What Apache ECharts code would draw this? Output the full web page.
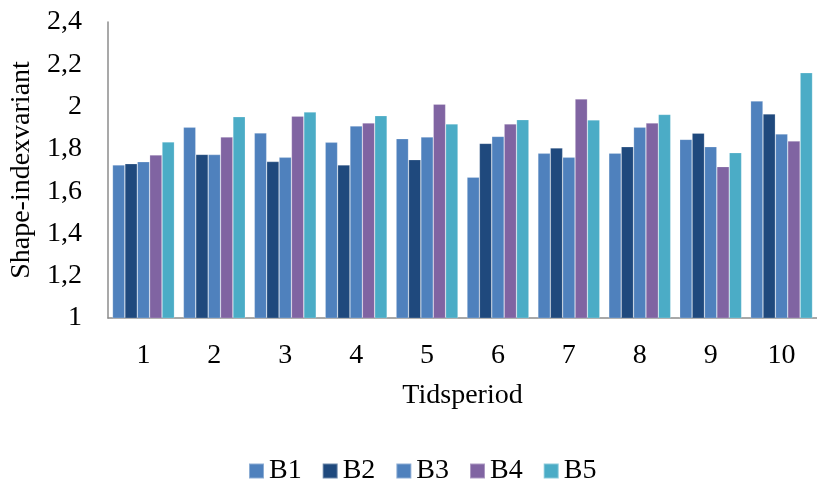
<!DOCTYPE html>
<html>
<head>
<meta charset="utf-8">
<script src="https://cdn.jsdelivr.net/npm/echarts@6/dist/echarts.min.js"></script>
<style>html,body{margin:0;padding:0;background:#fff;}#c{width:817px;height:479px;}</style>
</head>
<body>
<div id="c"></div>
<script>
var categories = ['1','2','3','4','5','6','7','8','9','10'];
var seriesNames = ['B1','B2','B3','B4','B5'];
var B1 = [1.724, 1.902, 1.875, 1.831, 1.848, 1.666, 1.779, 1.780, 1.845, 2.026];
var B2 = [1.730, 1.774, 1.740, 1.724, 1.749, 1.826, 1.804, 1.810, 1.874, 1.965];
var B3 = [1.739, 1.773, 1.760, 1.908, 1.856, 1.859, 1.760, 1.902, 1.810, 1.870];
var B4 = [1.771, 1.856, 1.955, 1.922, 2.011, 1.918, 2.036, 1.922, 1.716, 1.837];
var B5 = [1.833, 1.952, 1.974, 1.957, 1.918, 1.938, 1.937, 1.963, 1.782, 2.160];
var yTicks = [1, 1.2, 1.4, 1.6, 1.8, 2, 2.2, 2.4];
var colors = ['#4F81BD', '#1F497D', '#4F81BD', '#8064A2', '#4BACC6'];

var font = '"Liberation Serif", "Times New Roman", serif';
var fs = 28;
var allData = [B1, B2, B3, B4, B5];
var chart = echarts.init(document.getElementById('c'), null, {renderer: 'canvas'});
chart.setOption({
  animation: false,
  color: colors,
  textStyle: {fontFamily: font},
  grid: {left: 108, right: -14, top: 22, bottom: 161, containLabel: false},
  legend: {
    top: 452,
    left: 243,
    itemWidth: 15,
    itemHeight: 15,
    itemGap: 20,
    icon: 'rect',
    textStyle: {fontFamily: font, fontSize: fs, color: '#000'},
    data: seriesNames
  },
  xAxis: {
    type: 'category',
    data: categories,
    name: 'Tidsperiod',
    nameLocation: 'middle',
    nameGap: 64,
    nameTextStyle: {fontFamily: font, fontSize: fs, color: '#000'},
    axisLine: {lineStyle: {color: '#8C8C8C', width: 1.5}},
    axisTick: {show: false},
    axisLabel: {fontFamily: font, fontSize: fs, color: '#000', margin: 24}
  },
  yAxis: {
    type: 'value',
    min: yTicks[0],
    max: yTicks[yTicks.length - 1],
    interval: 0.2,
    name: 'Shape-indexvariant',
    nameLocation: 'middle',
    nameGap: 70,
    nameTextStyle: {fontFamily: font, fontSize: fs, color: '#000'},
    axisLine: {show: true, lineStyle: {color: '#8C8C8C', width: 1.5}},
    axisTick: {show: false},
    splitLine: {show: false},
    axisLabel: {
      fontFamily: font, fontSize: fs, color: '#000', margin: 26,
      formatter: function (v) {
        var r = Math.round(v * 10) / 10;
        return String(r).replace('.', ',');
      }
    }
  },
  series: seriesNames.map(function (n, i) {
    return {
      name: n,
      type: 'bar',
      data: allData[i],
      barGap: '0%',
      barCategoryGap: '12.7%',
      itemStyle: {color: colors[i], borderColor: 'rgba(255,255,255,0.35)', borderWidth: 0.6}
    };
  })
});
</script>
</body>
</html>
